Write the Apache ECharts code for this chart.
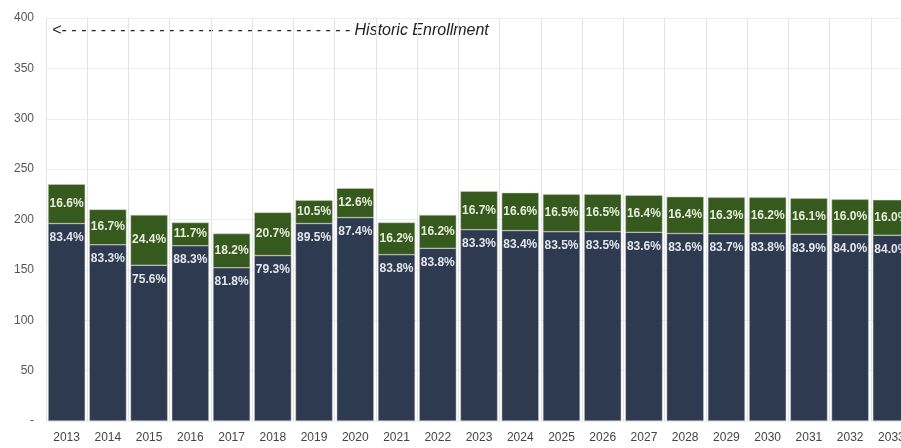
<!DOCTYPE html>
<html><head><meta charset="utf-8">
<script src="https://cdn.jsdelivr.net/npm/echarts@6/dist/echarts.min.js"></script>
<style>html,body{margin:0;padding:0;background:#fff;overflow:hidden}#c{width:914px;height:448px}</style>
</head><body><div id="c"></div>
<script>
const years = ['2013','2014','2015','2016','2017','2018','2019','2020','2021','2022','2023','2024','2025','2026','2027','2028','2029','2030','2031','2032','2033'];
const baseValues = [196.0,174.9,154.6,174.0,152.1,164.2,196.0,201.9,165.1,171.4,189.9,189.0,187.9,187.9,187.3,186.1,185.8,186.0,185.4,184.8,184.4];
const topValues  = [39.0,35.1,49.9,23.0,33.9,42.8,23.0,29.1,31.9,33.1,38.1,37.6,37.1,37.1,36.7,36.5,36.2,36.0,35.6,35.2,35.1];
const basePct = ['83.4%','83.3%','75.6%','88.3%','81.8%','79.3%','89.5%','87.4%','83.8%','83.8%','83.3%','83.4%','83.5%','83.5%','83.6%','83.6%','83.7%','83.8%','83.9%','84.0%','84.0%'];
const topPct  = ['16.6%','16.7%','24.4%','11.7%','18.2%','20.7%','10.5%','12.6%','16.2%','16.2%','16.7%','16.6%','16.5%','16.5%','16.4%','16.4%','16.3%','16.2%','16.1%','16.0%','16.0%'];
const yTicks = [0,50,100,150,200,250,300,350,400];

const chart = echarts.init(document.getElementById('c'));
const font = "'Liberation Sans Narrow','Liberation Sans',Arial,sans-serif";
chart.setOption({
  animation:false,
  grid:{left:46, top:18, right:2, height:403, containLabel:false},
  xAxis:{type:'category', data:years,
    axisLine:{show:false}, axisTick:{show:false},
    splitLine:{show:true, lineStyle:{color:'#e3e3e3', width:1}},
    axisLabel:{color:'#444', fontFamily:font, fontSize:12, margin:11}},
  yAxis:{type:'value', min:0, max:400, interval:50,
    axisLine:{show:false}, axisTick:{show:false},
    splitLine:{show:true, lineStyle:{color:'#ededed'}},
    axisLabel:{color:'#555', fontFamily:font, fontSize:12, margin:12,
      formatter:v=> v===0 ? '-' : String(v)}},
  graphic:[{type:'text', left:52, top:23,
    style:{text:'<- - - - - - - - - - - - - - - - - - - - - - - - - - - - - - Historic Enrollment', font:"italic 16px 'Liberation Sans',Arial,sans-serif", fill:'#222'}}],
  series:[
    {type:'bar', stack:'t', data:baseValues, barCategoryGap:'10%',
      itemStyle:{color:'#2e3a50', borderColor:'#c9ccd2', borderWidth:0.5},
      label:{show:true, position:'insideTop', distance:8, color:'#e4e6ea', fontWeight:'bold', fontFamily:font, fontSize:12,
        formatter:p=>basePct[p.dataIndex]}},
    {type:'bar', stack:'t', data:topValues,
      itemStyle:{color:'#36591d', borderColor:'#c9d2c0', borderWidth:0.5},
      label:{show:true, position:'inside', color:'#e6eddc', fontWeight:'bold', fontFamily:font, fontSize:12,
        formatter:p=>topPct[p.dataIndex]}}
  ]
});
</script></body></html>
